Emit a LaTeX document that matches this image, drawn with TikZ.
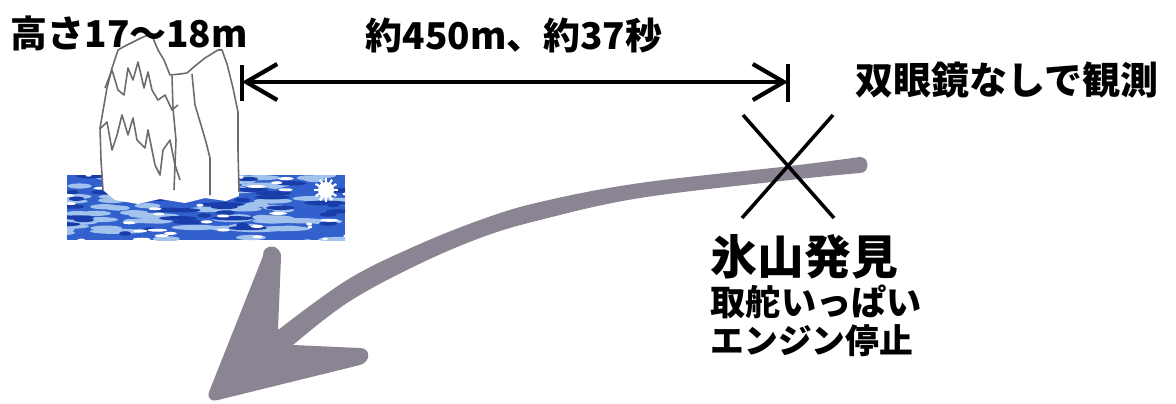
\documentclass[tikz,border=0pt]{standalone}
\usepackage{fontspec}
\setmainfont{Noto Sans CJK JP}
\usetikzlibrary{arrows.meta}

\definecolor{trackgray}{RGB}{139,133,147}
\definecolor{seablue}{RGB}{50,96,204}
\definecolor{seadark}{RGB}{24,60,168}
\definecolor{sealight}{RGB}{162,194,238}
\definecolor{iceline}{RGB}{112,106,112}

\begin{document}
\begin{tikzpicture}[x=0.01cm, y=-0.01cm,
    lbl/.style={anchor=west, inner sep=0pt, font=\bfseries\fontsize{#1}{#1}\selectfont},
    dist arrow/.style={line width=1.2pt, {Straight Barb[length=0.31cm, width=0.36cm]}-{Straight Barb[length=0.31cm, width=0.36cm]}},
    ice/.style={iceline, line width=0.45pt, line join=round}]
        \tikzstyle{every node}=[text=black]

        \useasboundingbox (0,0) rectangle (1176,403);

        % sea under the iceberg
        \begin{scope}
          \clip (67,175) rectangle (345,240);
          \fill[seablue] (67,175) rectangle (345,240);
          \pgfmathsetseed{11}
          \foreach \i in {1,...,70}{
            \pgfmathsetmacro\wx{60+rnd*290}
            \pgfmathsetmacro\wy{175+rnd*66}
            \pgfmathsetmacro\wr{8+rnd*20}
            \fill[sealight] (\wx,\wy) ellipse [x radius=\wr, y radius=2.6];
          }
          \foreach \i in {1,...,45}{
            \pgfmathsetmacro\wx{60+rnd*290}
            \pgfmathsetmacro\wy{175+rnd*66}
            \pgfmathsetmacro\wr{6+rnd*16}
            \fill[seadark] (\wx,\wy) ellipse [x radius=\wr, y radius=2.2];
          }
          \foreach \i in {1,...,40}{
            \pgfmathsetmacro\wx{60+rnd*290}
            \pgfmathsetmacro\wy{175+rnd*66}
            \pgfmathsetmacro\wr{2+rnd*8}
            \fill[white] (\wx,\wy) ellipse [x radius=\wr, y radius=1.5];
          }
          % spray
          \fill[white] (326,190) circle [radius=8];
          \foreach \a in {0,30,...,330}
            \draw[white, line width=0.6pt] (326,190) -- ++(\a:12);
        \end{scope}

        % iceberg
        \fill[white] (103,190) -- (101,160) -- (100,128) -- (104,105) -- (107,88) -- (112,68) -- (118,50)
          -- (133,42) -- (148,35) -- (153,38) -- (158,50) -- (170,75) -- (187,73) -- (205,58) -- (218,50)
          -- (222,50) -- (227,64) -- (233,88) -- (238,112) -- (238,150) -- (239,196) -- (226,201) -- (205,198)
          -- (185,203) -- (160,199) -- (138,204) -- (115,200) -- cycle;
        \draw[ice] (103,190) -- (101,160) -- (100,128) -- (104,105) -- (107,88) -- (112,68) -- (118,50)
          -- (125,46) -- (133,42) -- (141,38) -- (148,35) -- (153,38) -- (158,50) -- (164,60) -- (170,75)
          -- (180,74) -- (187,73) -- (195,66) -- (205,58) -- (218,50) -- (222,50) -- (227,64) -- (233,88)
          -- (238,112) -- (238,150) -- (239,192);
        \draw[ice] (105,88) -- (112,70) -- (118,90) -- (124,95) -- (128,68) -- (133,80) -- (138,62)
          -- (144,88) -- (148,72) -- (152,90) -- (158,100) -- (165,95) -- (172,110) -- (178,105);
        \draw[ice] (101,128) -- (107,122) -- (112,150) -- (117,135) -- (122,115) -- (128,135) -- (133,118)
          -- (137,140) -- (145,148) -- (148,130) -- (155,165) -- (160,175) -- (163,150) -- (170,140)
          -- (175,165) -- (180,180);
        \draw[ice] (172,76) -- (173,108) -- (176,140) -- (174,190);
        \draw[ice] (192,74) -- (195,105) -- (201,125) -- (206,142) -- (210,158) -- (210,195);

        % ship position and track
        \coordinate (1) at (242,82);
        \coordinate (2) at (788,82);
        \coordinate (3) at (788,167);

        \draw[dist arrow] (1) -- (2);
        \draw[line width=1.2pt] (1) ++(0,-17) -- ++(0,36);
        \draw[line width=1.2pt] (2) ++(0,-18) -- ++(0,38);

        \fill[trackgray]
          plot[smooth, tension=0.6] coordinates {(860,157) (790,166) (640,183) (540,202) (480,220) (413,247) (347,280) (278,330)}
          -- (281,258) .. controls (282,243) and (262,243) .. (263,256)
          -- (209,392) .. controls (207,399) and (212,402) .. (218,400)
          -- (360,365) .. controls (371,362) and (371,348) .. (360,348)
          -- plot[smooth, tension=0.6] coordinates {(293,345) (347,303) (413,267) (480,238) (540,220) (640,198) (790,180) (860,173)}
          .. controls (870,173) and (870,157) .. (860,157) -- cycle;

        \draw[line width=1pt] (3) ++(-45,-52) -- ++(91,103);
        \draw[line width=1pt] (3) ++(45,-52) -- ++(-91,103);

        % labels
        \node[lbl=10.5] (4) at (10,33) {高さ17〜18m};
        \node[lbl=10.5] (5) at (365,35) {約450m、約37秒};
        \node[lbl=10.8] (6) at (855,80) {双眼鏡なしで観測};
        \node[lbl=13.3] (7) at (710,257) {氷山発見};
        \node[lbl=10] (8) at (710,302) {取舵いっぱい};
        \node[lbl=9.6] (9) at (710,341) {エンジン停止};

\end{tikzpicture}
\end{document}
